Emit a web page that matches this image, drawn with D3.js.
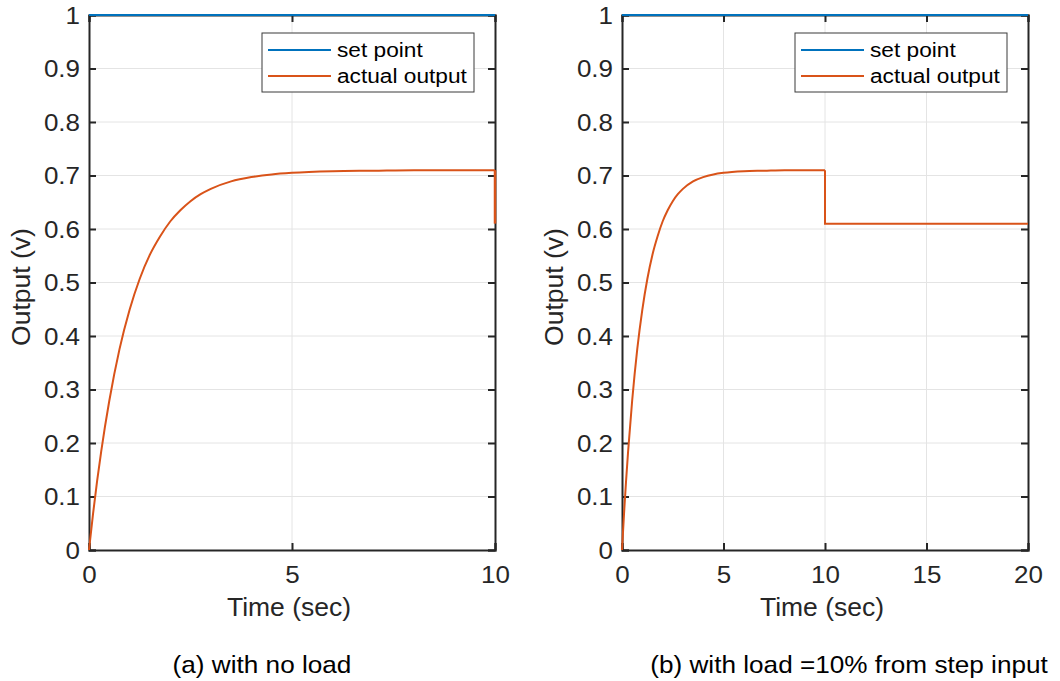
<!DOCTYPE html>
<html><head><meta charset="utf-8">
<script src="https://cdnjs.cloudflare.com/ajax/libs/d3/7.8.5/d3.min.js"></script>
<style>body{margin:0;background:#fff}svg{display:block}text{font-family:"Liberation Sans",Arial,sans-serif}</style>
</head><body><svg id="c" width="1060" height="681"></svg>
<script>
// Data
const riseTime   = [0,0.1,0.2,0.3,0.5,0.75,1,1.25,1.5,1.75,2,2.25,2.5,2.75,3,3.5,4,4.5,5,6,7,8,9,10];
const riseOutput = [0,0.068,0.129,0.184,0.279,0.375,0.449,0.507,0.552,0.586,0.614,0.635,0.652,0.665,0.675,0.689,0.697,0.702,0.705,0.708,0.709,0.710,0.710,0.710];
const loadTime   = [10,10,20];
const loadOutput = [0.710,0.610,0.610];
const noLoadEnd  = [0.710,0.610];
const setPointValue = 1;
const yTicks = [0,0.1,0.2,0.3,0.4,0.5,0.6,0.7,0.8,0.9,1];
const xTicksA = [0,5,10];
const xTicksB = [0,5,10,15,20];
const legendLabels = ["set point","actual output"];
const captions = ["(a) with no load","(b) with load =10% from step input"];

const svg = d3.select("#c");
const BLUE = "#0072BD", ORANGE = "#D95319", AX = "#262626";

function panel(left, right, xMax, xTicks, caption, captionX, withLoad){
  const x = d3.scaleLinear().domain([0,xMax]).range([left,right]);
  const y = d3.scaleLinear().domain([0,1]).range([550,15]);
  const g = svg.append("g");
  // grid
  g.selectAll(".gx").data(xTicks.slice(1,-1)).join("line")
    .attr("x1",d=>x(d)).attr("x2",d=>x(d)).attr("y1",y(0)).attr("y2",y(1))
    .attr("stroke","#e4e4e4").attr("stroke-width",1);
  g.selectAll(".gy").data(yTicks.slice(1,-1)).join("line")
    .attr("y1",d=>y(d)).attr("y2",d=>y(d)).attr("x1",left).attr("x2",right)
    .attr("stroke","#e4e4e4").attr("stroke-width",1);
  // axes
  const ax = d3.axisBottom(x).tickValues(xTicks).tickSize(-7).tickFormat(d3.format("d"));
  const gx = g.append("g").attr("transform",`translate(0,${y(0)})`).call(ax);
  const axT = d3.axisTop(x).tickValues(xTicks).tickSize(-7).tickFormat("");
  const gxt = g.append("g").attr("transform",`translate(0,${y(1)})`).call(axT);
  const ay = d3.axisLeft(y).tickValues(yTicks).tickSize(-7).tickFormat(d=>d===0||d===1?d3.format("d")(d):d3.format(".1f")(d));
  const gy = g.append("g").attr("transform",`translate(${left},0)`).call(ay);
  const ayR = d3.axisRight(y).tickValues(yTicks).tickSize(-7).tickFormat("");
  const gyr = g.append("g").attr("transform",`translate(${right},0)`).call(ayR);
  [gx,gxt,gy,gyr].forEach(s=>{
    s.select(".domain").attr("stroke",AX).attr("stroke-width",2);
    s.selectAll(".tick line").attr("stroke",AX).attr("stroke-width",2);
    s.selectAll(".tick text").attr("fill",AX).style("font-size","23px").style("font-family","'Liberation Sans',Arial,sans-serif");
  });
  gx.selectAll(".tick text").attr("x",0).attr("y",0).attr("dy",0).attr("text-anchor","middle")
    .attr("transform","translate(0,33) scale(1.13,1)");
  gy.selectAll(".tick text").attr("x",0).attr("y",0).attr("dy","0.35em").attr("text-anchor","end")
    .attr("transform","translate(-9,0) scale(1.13,1)");
  // labels
  g.append("text").attr("transform",`translate(${(left+right)/2-3},616) scale(1.06,1)`).attr("text-anchor","middle")
    .attr("fill",AX).style("font-size","25px").text("Time (sec)");
  g.append("text").attr("transform",`translate(${left-59},287) rotate(-90) scale(1.06,1)`).attr("text-anchor","middle")
    .attr("fill",AX).style("font-size","25px").text("Output (v)");
  g.append("text").attr("transform",`translate(${captionX},673) scale(1.09,1)`).attr("text-anchor","middle")
    .attr("fill","#000").style("font-size","24px").text(caption);
  // lines
  const line = d3.line().x(d=>x(d[0])).y(d=>y(d[1]));
  const smooth = d3.line().x(d=>x(d[0])).y(d=>y(d[1])).curve(d3.curveMonotoneX);
  const clip = "clip"+left;
  svg.append("clipPath").attr("id",clip).append("rect").attr("x",left-2).attr("y",y(1)-2).attr("width",right-left+4).attr("height",y(0)-y(1)+4);
  const lg = g.append("g").attr("clip-path",`url(#${clip})`);
  lg.append("path").attr("d",smooth(riseTime.map((t,i)=>[t,riseOutput[i]])))
    .attr("fill","none").attr("stroke",ORANGE).attr("stroke-width",2);
  if(withLoad){
    lg.append("path").attr("d",line(loadTime.map((t,i)=>[t,loadOutput[i]])))
      .attr("fill","none").attr("stroke",ORANGE).attr("stroke-width",2);
  } else {
    lg.append("path").attr("d",line(noLoadEnd.map(v=>[xMax,v])))
      .attr("fill","none").attr("stroke",ORANGE).attr("stroke-width",2.5);
  }
  lg.append("path").attr("d",line([[0,setPointValue],[xMax,setPointValue]]))
    .attr("fill","none").attr("stroke",BLUE).attr("stroke-width",2);
  // legend
  const lx = right-233, ly = 33, lw = 212, lh = 59;
  const leg = g.append("g");
  leg.append("rect").attr("x",lx).attr("y",ly).attr("width",lw).attr("height",lh)
    .attr("fill","#fff").attr("stroke","#3a3a3a").attr("stroke-width",1);
  [BLUE,ORANGE].forEach((c,i)=>{
    const yy = ly+17+i*26;
    leg.append("line").attr("x1",lx+6).attr("x2",lx+69).attr("y1",yy).attr("y2",yy).attr("stroke",c).attr("stroke-width",2);
    leg.append("text").attr("transform",`translate(${lx+75},${yy}) scale(1.08,1)`).attr("dy","0.35em").attr("fill","#000")
      .style("font-size","21px").text(legendLabels[i]);
  });
}
panel(89,495,10,xTicksA,captions[0],262,false);
panel(622,1028,20,xTicksB,captions[1],849,true);
</script></body></html>
